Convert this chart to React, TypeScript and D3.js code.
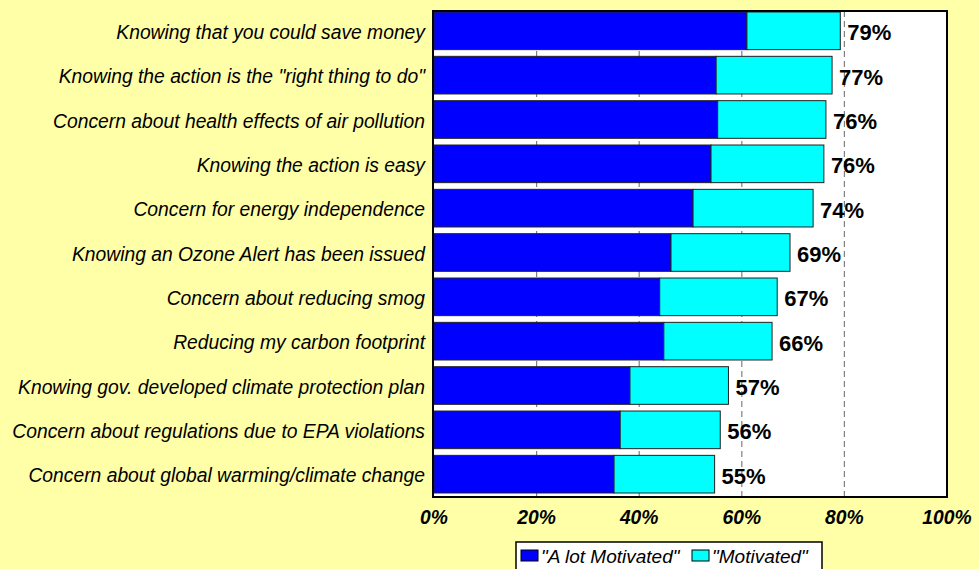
import React from "react";
import * as d3 from "d3";

const categories = [
  "Knowing that you could save money",
  "Knowing the action is the \"right thing to do\"",
  "Concern about health effects of air pollution",
  "Knowing the action is easy",
  "Concern for energy independence",
  "Knowing an Ozone Alert has been issued",
  "Concern about reducing smog",
  "Reducing my carbon footprint",
  "Knowing gov. developed climate protection plan",
  "Concern about regulations due to EPA violations",
  "Concern about global warming/climate change",
];
const aLotMotivated = [61, 55, 55.3, 54, 50.5, 46.2, 44, 44.8, 38.2, 36.3, 35.1];
const motivated = [18.2, 22.6, 21.1, 22, 23.4, 23.2, 22.9, 21.1, 19.2, 19.5, 19.6];
const totalLabels = ["79%", "77%", "76%", "76%", "74%", "69%", "67%", "66%", "57%", "56%", "55%"];
const xTicks = [0, 20, 40, 60, 80, 100];
const gridTicks = [20, 40, 60, 80];
const seriesNames = ["\"A lot Motivated\"", "\"Motivated\""];

export default function App() {
  const W = 979, H = 569;
  const x = d3.scaleLinear().domain([0, 100]).range([434, 947]);
  const y = d3.scaleBand<string>().domain(categories).range([12, 493]).paddingInner(0.151).paddingOuter(0);
  const font = "Arial, 'Liberation Sans', sans-serif";
  return (
    <svg width={W} height={H} style={{ position: "absolute", left: 0, top: 0, display: "block" }}>
      <rect x={0} y={0} width={W} height={H} fill="#ffffa8" />
      <rect x={433} y={11} width={514} height={486} fill="#ffffff" />
      {gridTicks.map((t) => (
        <line key={t} x1={x(t)} x2={x(t)} y1={11} y2={497} stroke="#808080" strokeWidth={1.2} strokeDasharray="6,4" />
      ))}
      {categories.map((c, i) => {
        const y0 = y(c)!;
        const bw = y.bandwidth();
        const x1 = x(aLotMotivated[i]);
        const x2 = x(aLotMotivated[i] + motivated[i]);
        return (
          <g key={c}>
            <rect x={x(0)} y={y0} width={x1 - x(0)} height={bw} fill="#0000ff" stroke="#222" strokeWidth={1} />
            <rect x={x1} y={y0} width={x2 - x1} height={bw} fill="#00ffff" stroke="#222" strokeWidth={1} />
            <text x={x2 + 7} y={y0 + bw / 2 + 1.5} dy="0.36em" fontFamily={font} fontWeight="bold" fontSize={22} fill="#000">
              {totalLabels[i]}
            </text>
            <text x={425} y={y0 + bw / 2 + 1.5} dy="0.35em" textAnchor="end" fontFamily={font} fontStyle="italic" fontSize={19.3} fill="#000">
              {c}
            </text>
          </g>
        );
      })}
      <rect x={433} y={11} width={514} height={486} fill="none" stroke="#000" strokeWidth={2} />
      {xTicks.map((t) => (
        <text key={t} x={x(t)} y={524} textAnchor="middle" fontFamily={font} fontWeight="bold" fontStyle="italic" fontSize={19.3} fill="#000">
          {t}%
        </text>
      ))}
      <rect x={516} y={542} width={306} height={40} fill="#fff" stroke="#000" strokeWidth={1.5} />
      <rect x={521} y={550} width={17} height={11} fill="#0000ff" stroke="#000" strokeWidth={1} />
      <text x={541} y={562.5} fontFamily={font} fontStyle="italic" fontSize={19} fill="#000">{seriesNames[0]}</text>
      <rect x={692} y={550} width={17} height={11} fill="#00ffff" stroke="#000" strokeWidth={1} />
      <text x={712} y={562.5} fontFamily={font} fontStyle="italic" fontSize={19} fill="#000">{seriesNames[1]}</text>
    </svg>
  );
}
